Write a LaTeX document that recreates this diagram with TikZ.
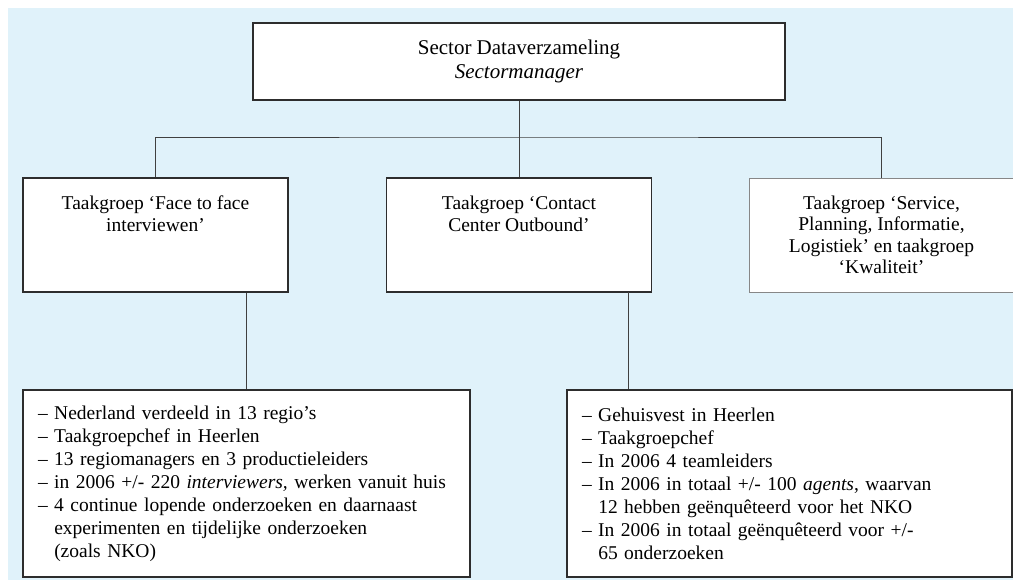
\documentclass[tikz,border=0pt]{standalone}
\usepackage{fontspec}
\setmainfont{Liberation Serif}
\usepackage{xcolor}
\usepackage{tikz}

\definecolor{bgblue}{RGB}{224,242,250}
\definecolor{boxline}{RGB}{45,45,45}
\definecolor{softline}{RGB}{135,135,135}
\newcommand{\ind}{\phantom{–~}}

\begin{document}
\begin{tikzpicture}
		[
			x=1pt, y=-1pt,
			font=\fontsize{19.5}{21.5}\selectfont,
			box/.style={draw=boxline, line width=1.6pt, fill=white, align=center, inner sep=0pt},
			lightbox/.style={box, draw=softline, line width=1pt},
			list/.style={box, align=left, inner xsep=15pt, font=\fontsize{19.5}{23}\selectfont},
			line/.style={draw=black!75, line width=0.8pt}
		]

		% background
		\useasboundingbox (0,0) rectangle (1013,582);
		\fill[bgblue] (8,8) rectangle (1013,580);

		% sector
		\node[box, minimum width=532, minimum height=77, font=\fontsize{21}{24.5}\selectfont] (sector) at ( 519.0,  61.5 ) {Sector Dataverzameling\\ \textit{Sectormanager}};

		% taakgroepen
		\node[box, minimum width=265, minimum height=114] (ff)	at ( 155.5, 235.0 ) {Taakgroep ‘Face to face\\ interviewen’\\ ~\\ ~};
		\node[box, minimum width=265, minimum height=114] (cc)	at ( 519.0, 235.0 ) {Taakgroep ‘Contact\\ Center Outbound’\\ ~\\ ~};
		\node[lightbox, minimum width=265, minimum height=114] (spil) at ( 881.5, 235.0 ) {Taakgroep ‘Service,\\ Planning, Informatie,\\ Logistiek’ en taakgroep\\ ‘Kwaliteit’};

		% details
		\node[list, text width=417, minimum height=187] (ffinfo) at ( 246.5, 483.5 ) {%
			– Nederland verdeeld in 13 regio’s\\
			– Taakgroepchef in Heerlen\\
			– 13 regiomanagers en 3 productieleiders\\
			– in 2006 +/- 220 \textit{interviewers,} werken vanuit huis\\
			– 4 continue lopende onderzoeken en daarnaast\\
			\ind experimenten en tijdelijke onderzoeken\\
			\ind (zoals NKO)};
		\node[list, text width=415, minimum height=187] (ccinfo) at ( 789.5, 483.5 ) {%
			– Gehuisvest in Heerlen\\
			– Taakgroepchef\\
			– In 2006 4 teamleiders\\
			– In 2006 in totaal +/- 100 \textit{agents}, waarvan\\
			\ind 12 hebben geënquêteerd voor het NKO\\
			– In 2006 in totaal geënquêteerd voor +/-\\
			\ind 65 onderzoeken};

		% lines
		\coordinate (bar) at ( 519.0, 137.0 );
		\coordinate (ccout) at ( 628.0, 292.0 );

		\draw[line] (sector.south) -- (cc.north);
		\draw[line] (ff.north) |- (bar) -| (spil.north);
		\draw[line] (ffinfo.north) -- (ffinfo.north |- ff.south);
		\draw[line] (ccout) -- (ccout |- ccinfo.north);

	\end{tikzpicture}
\end{document}
